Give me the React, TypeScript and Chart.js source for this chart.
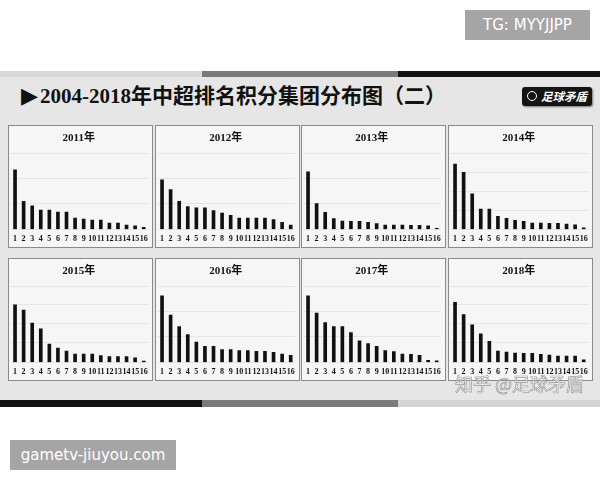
import React, { useEffect, useRef } from "react";
import { Chart, registerables } from "chart.js";

Chart.register(...registerables);

// Rank labels (x axis)
const ranks = ["1", "2", "3", "4", "5", "6", "7", "8", "9", "10", "11", "12", "13", "14", "15", "16"];

// Panel titles
const years = ["2011年", "2012年", "2013年", "2014年", "2015年", "2016年", "2017年", "2018年"];

// Relative bar heights (no axis values shown)
const s2011 = [178, 84, 70, 58, 58, 52, 52, 34, 31, 28, 28, 19, 19, 13, 11, 6];
const s2012 = [148, 119, 84, 68, 64, 64, 56, 49, 42, 34, 34, 34, 34, 29, 21, 13];
const s2013 = [172, 77, 51, 32, 25, 24, 24, 21, 17, 13, 13, 13, 12, 12, 11, 3];
const s2014 = [195, 170, 106, 61, 61, 39, 33, 27, 24, 19, 19, 18, 18, 16, 14, 5];
const s2015 = [172, 156, 117, 100, 55, 43, 34, 25, 25, 25, 20, 17, 17, 17, 14, 4];
const s2016 = [199, 141, 107, 83, 61, 48, 48, 38, 38, 35, 35, 33, 33, 30, 25, 21];
const s2017 = [199, 147, 119, 107, 107, 89, 64, 56, 48, 35, 32, 25, 24, 21, 6, 5];
const s2018 = [179, 143, 112, 85, 63, 34, 31, 28, 27, 27, 24, 22, 19, 19, 19, 8];

const allSeries = [s2011, s2012, s2013, s2014, s2015, s2016, s2017, s2018];
const gridSteps = [75, 75, 75, 57, 58, 75, 75, 58];

const colX = [8, 155, 301, 448];
const rowY = [125, 258];

const serifFont = '"Liberation Serif", "DejaVu Serif", "Noto Sans CJK SC", serif';

function Panel({ title, values, step, left, top }: { title: string; values: number[]; step: number; left: number; top: number }) {
  const ref = useRef<HTMLCanvasElement | null>(null);
  useEffect(() => {
    if (!ref.current) return;
    const chart = new Chart(ref.current, {
      type: "bar",
      data: {
        labels: ranks,
        datasets: [
          {
            data: values,
            backgroundColor: "#111111",
            borderWidth: 0,
            barThickness: 3,
          },
        ],
      },
      options: {
        animation: false,
        responsive: false,
        maintainAspectRatio: false,
        layout: { padding: { left: 1.5, right: 5, top: 0, bottom: 0 } },
        plugins: {
          legend: { display: false },
          tooltip: { enabled: false },
          title: {
            display: true,
            text: title,
            color: "#111111",
            font: { family: serifFont, size: 11, weight: "bold", lineHeight: 1.2 },
            padding: { top: 5.4, bottom: 8.4 },
          },
        },
        scales: {
          x: {
            grid: { display: false, drawTicks: false },
            border: { display: false },
            ticks: {
              autoSkip: false,
              maxRotation: 0,
              minRotation: 0,
              padding: 5,
              color: "#111111",
              font: { family: serifFont, size: 8, weight: "bold" },
            },
          },
          y: {
            min: 0,
            max: 228,
            grid: { color: "#e6e6e6", drawTicks: false, lineWidth: 1 },
            border: { display: false },
            ticks: { display: false, stepSize: step },
          },
        },
      },
    });
    return () => chart.destroy();
  }, [title, values, step]);
  return (
    <>
      <div
        style={{
          position: "absolute",
          left,
          top,
          width: 145,
          height: 123,
          boxSizing: "border-box",
          border: "1px solid #8a8a8a",
          background: "#f6f6f6",
        }}
      />
      <canvas
        ref={ref}
        width={145}
        height={123}
        style={{ position: "absolute", left, top: top + 1, width: 145, height: 123, display: "block" }}
      />
    </>
  );
}

export default function App() {
  return (
    <div
      style={{
        position: "absolute",
        left: 0,
        top: 0,
        width: 600,
        height: 480,
        background: "#ffffff",
        overflow: "hidden",
        fontFamily: '"Noto Sans CJK SC", sans-serif',
      }}
    >
      {/* TG label */}
      <div
        style={{
          position: "absolute",
          left: 465,
          top: 10,
          width: 125,
          height: 30,
          background: "#a5a5a5",
          color: "#ffffff",
          fontSize: 15,
          fontFamily: '"DejaVu Sans", sans-serif',
          lineHeight: "30px",
          textAlign: "center",
        }}
      >
        TG: MYYJJPP
      </div>

      {/* top strip */}
      <div style={{ position: "absolute", left: 0, top: 71, width: 202, height: 6, background: "#d8d8d8" }} />
      <div style={{ position: "absolute", left: 202, top: 71, width: 196, height: 6, background: "#7a7a7a" }} />
      <div style={{ position: "absolute", left: 398, top: 71, width: 202, height: 6, background: "#111111" }} />

      {/* paper background */}
      <div style={{ position: "absolute", left: 0, top: 77, width: 600, height: 323, background: "#e6e6e6" }} />

      {/* bottom strip */}
      <div style={{ position: "absolute", left: 0, top: 400, width: 202, height: 7, background: "#111111" }} />
      <div style={{ position: "absolute", left: 202, top: 400, width: 196, height: 7, background: "#7a7a7a" }} />
      <div style={{ position: "absolute", left: 398, top: 400, width: 202, height: 7, background: "#d4d4d4" }} />

      {/* main title */}
      <div
        style={{
          position: "absolute",
          left: 21,
          top: 82,
          height: 28,
          lineHeight: "28px",
          fontSize: 21,
          fontWeight: "bold",
          color: "#111111",
          whiteSpace: "nowrap",
          fontFamily: serifFont,
        }}
      >
        <span style={{ fontFamily: '"DejaVu Sans", sans-serif', fontSize: 22, marginRight: 2 }}>▶</span>
        2004-2018年中超排名积分集团分布图（二）
      </div>

      {/* logo */}
      <div
        style={{
          position: "absolute",
          left: 522,
          top: 87,
          width: 70,
          height: 19,
          background: "#141414",
          borderRadius: 3,
          color: "#ffffff",
          fontSize: 11.5,
          fontWeight: "bold",
          fontStyle: "italic",
          lineHeight: "19px",
          textAlign: "right",
          paddingRight: 5,
          boxSizing: "border-box",
          boxShadow: "1px 1px 2px #777",
        }}
      >
        <span
          style={{
            position: "absolute",
            left: 5,
            top: 4,
            width: 10,
            height: 10,
            borderRadius: 6,
            border: "1.5px solid #ffffff",
            boxSizing: "border-box",
          }}
        />
        足球矛盾
      </div>

      {allSeries.map((vals, i) => (
        <Panel
          key={years[i]}
          title={years[i]}
          values={vals}
          step={gridSteps[i]}
          left={colX[i % 4]}
          top={rowY[Math.floor(i / 4)]}
        />
      ))}

      {/* zhihu watermark */}
      <div
        style={{
          position: "absolute",
          left: 455,
          top: 370,
          fontSize: 18,
          color: "rgba(255,255,255,0.85)",
          WebkitTextStroke: "0.7px #9a9a9a",
          whiteSpace: "nowrap",
          lineHeight: "26px",
        }}
      >
        知乎 @足球矛盾
      </div>

      {/* bottom site label */}
      <div
        style={{
          position: "absolute",
          left: 10,
          top: 440,
          width: 166,
          height: 30,
          background: "#a5a5a5",
          color: "#ffffff",
          fontSize: 15,
          fontFamily: '"DejaVu Sans", sans-serif',
          lineHeight: "30px",
          textAlign: "center",
        }}
      >
        gametv-jiuyou.com
      </div>
    </div>
  );
}
